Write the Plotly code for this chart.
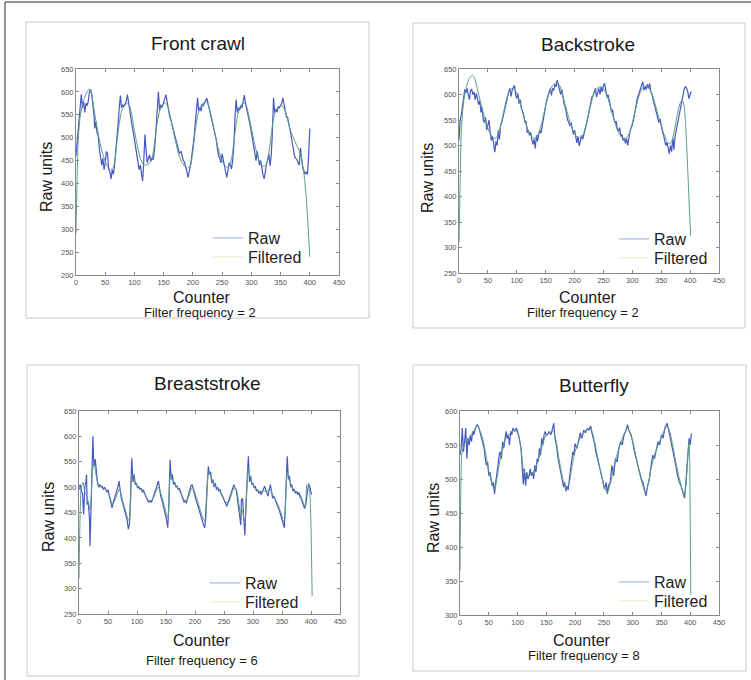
import plotly.graph_objects as go

# ---------------- data ----------------
titles = ["Front crawl", "Backstroke", "Breaststroke", "Butterfly"]
filter_labels = ["Filter frequency = 2", "Filter frequency = 2", "Filter frequency = 6", "Filter frequency = 8"]
x_ticks = [0, 50, 100, 150, 200, 250, 300, 350, 400, 450]
y_ticks_crawl = [200, 250, 300, 350, 400, 450, 500, 550, 600, 650]
y_ticks_back = [250, 300, 350, 400, 450, 500, 550, 600, 650]
y_ticks_breast = [250, 300, 350, 400, 450, 500, 550, 600, 650]
y_ticks_fly = [300, 350, 400, 450, 500, 550, 600]

crawl_raw = [(0,460),(3,510),(6,560),(9,595),(11,565),(13,580),(15,555),(17,575),(19,570),(21,580),(23,600),(25,605),(27,595),(29,575),(31,545),(32,520),(34,535),(36,510),(38,505),(40,475),(42,450),(44,440),(46,455),(48,430),(50,445),(52,470),(54,465),(56,430),(58,425),(60,410),(62,430),(64,420),(66,440),(68,465),(70,495),(72,530),(74,565),(76,592),(78,565),(80,572),(82,568),(84,575),(86,580),(88,594),(90,575),(92,560),(94,545),(96,525),(98,512),(100,495),(102,475),(104,455),(106,442),(108,430),(110,440),(112,425),(114,405),(116,450),(118,507),(120,470),(122,445),(124,455),(126,462),(128,448),(130,455),(132,452),(134,470),(136,500),(138,535),(140,565),(141,600),(143,560),(145,572),(147,565),(150,580),(152,585),(154,594),(156,578),(158,560),(160,548),(162,540),(165,522),(168,510),(171,495),(174,478),(177,466),(180,470),(183,452),(186,445),(188,432),(190,418),(192,413),(194,428),(196,440),(198,460),(200,478),(202,500),(204,530),(206,560),(208,587),(210,558),(212,566),(214,558),(216,572),(218,570),(220,578),(222,582),(224,586),(226,575),(228,565),(231,545),(234,525),(237,508),(240,495),(242,475),(244,460),(246,455),(248,445),(250,465),(252,448),(254,440),(256,425),(258,413),(260,432),(262,445),(264,440),(266,432),(268,450),(270,480),(272,545),(274,583),(276,555),(278,565),(280,560),(282,570),(284,565),(286,578),(288,593),(290,575),(292,565),(295,545),(298,528),(300,512),(302,500),(304,480),(306,465),(308,450),(310,470),(312,455),(314,440),(316,450),(318,430),(320,418),(322,410),(324,430),(326,442),(328,452),(330,465),(332,438),(334,460),(336,510),(338,587),(340,555),(342,562),(344,556),(346,568),(348,565),(350,572),(352,575),(354,587),(356,570),(358,555),(360,545),(362,545),(364,528),(366,520),(368,505),(370,490),(372,472),(374,460),(376,455),(378,452),(380,445),(382,440),(384,478),(386,445),(388,432),(390,428),(392,420),(394,425),(396,420),(398,460),(400,520)]
crawl_raw_x = [p[0] for p in crawl_raw]
crawl_raw_y = [p[1] for p in crawl_raw]
crawl_filt_x = [0,2,4,7,10,14,18,22,25,28,31,35,40,45,50,55,60,64,67,70,74,78,83,88,92,96,100,105,110,115,120,125,130,134,138,143,148,153,157,161,166,171,176,181,186,191,196,200,204,209,214,219,224,228,233,238,243,248,253,258,263,267,271,276,281,286,291,295,300,305,310,315,320,325,329,333,337,342,347,352,357,362,367,372,378,384,388,391,394,397,400]
crawl_filt_y = [290,420,500,545,565,585,598,606,602,585,560,530,495,468,448,435,430,436,455,490,530,558,570,575,568,545,515,482,455,442,440,443,455,485,525,558,572,576,568,548,518,488,462,447,438,433,440,470,515,553,570,577,577,565,538,508,478,456,442,436,440,460,500,545,568,576,572,552,522,490,463,446,437,440,458,495,535,560,568,570,562,540,515,500,482,465,440,410,370,310,240]

back_raw = [(0,510),(2,550),(4,560),(6,575),(8,595),(10,610),(12,603),(14,612),(16,600),(18,590),(20,608),(22,610),(24,600),(26,605),(28,590),(30,602),(32,592),(34,580),(36,588),(38,565),(40,575),(42,550),(44,545),(46,555),(48,530),(50,540),(52,550),(54,525),(56,510),(58,518),(60,500),(62,487),(64,508),(66,500),(68,530),(70,512),(72,540),(74,545),(76,555),(78,565),(80,580),(82,590),(84,600),(86,605),(88,612),(90,596),(92,608),(94,612),(96,618),(98,600),(100,592),(102,602),(104,582),(106,590),(108,572),(110,568),(112,560),(114,545),(116,548),(118,525),(120,530),(122,520),(124,526),(126,512),(128,502),(130,512),(132,494),(134,520),(136,508),(138,522),(140,530),(142,524),(144,540),(146,550),(148,565),(150,578),(152,590),(154,600),(156,605),(158,612),(160,598),(162,612),(164,608),(166,620),(168,615),(170,628),(172,620),(174,612),(176,600),(178,610),(180,590),(182,580),(184,575),(186,560),(188,550),(190,545),(192,538),(194,545),(196,528),(198,522),(200,530),(202,512),(204,505),(206,518),(208,499),(210,508),(212,520),(214,512),(216,525),(218,530),(220,540),(222,548),(224,560),(226,572),(228,585),(230,595),(232,598),(234,608),(236,612),(238,595),(240,605),(242,612),(244,600),(246,615),(248,605),(250,618),(252,622),(254,608),(256,595),(258,600),(260,585),(262,578),(264,565),(266,570),(268,552),(270,545),(272,548),(274,532),(276,528),(278,535),(280,518),(282,522),(284,510),(286,515),(288,504),(290,514),(292,500),(294,520),(296,528),(298,535),(300,540),(302,550),(304,560),(306,575),(308,590),(310,598),(312,605),(314,612),(316,620),(318,625),(320,608),(322,615),(324,610),(326,620),(328,612),(330,622),(332,605),(334,600),(336,590),(338,582),(340,572),(342,565),(344,558),(346,545),(348,552),(350,535),(352,528),(354,520),(356,510),(358,500),(360,506),(362,490),(364,484),(366,500),(368,488),(370,515),(372,492),(374,518),(376,530),(378,545),(380,558),(382,570),(384,578),(386,592),(388,605),(390,612),(392,615),(394,612),(396,605),(398,592),(400,600),(402,606)]
back_raw_x = [p[0] for p in back_raw]
back_raw_y = [p[1] for p in back_raw]
back_filt_x = [0,2,4,7,10,14,18,23,27,31,35,40,46,52,58,64,69,74,79,84,89,94,99,104,110,116,122,128,133,138,144,150,156,162,168,174,179,185,191,197,203,209,215,221,227,233,239,245,251,257,263,269,275,281,287,293,299,305,311,317,323,329,335,341,347,353,359,364,368,372,376,380,384,387,390,392,394,396,398,401]
back_filt_y = [310,430,530,575,600,620,632,638,632,615,595,572,548,528,516,514,525,548,575,598,610,612,605,590,565,542,524,515,514,524,548,578,603,618,624,618,600,575,550,530,518,515,522,545,575,600,612,615,610,595,572,548,528,517,513,520,540,568,595,612,617,612,598,575,550,528,510,503,508,525,550,572,586,588,575,545,500,450,395,323]

breast_raw = [(0,495),(2,505),(4,492),(6,488),(8,446),(10,500),(12,512),(13,525),(14,466),(16,470),(18,440),(19,384),(21,470),(23,560),(24,600),(25,560),(26,540),(28,555),(30,525),(32,508),(34,500),(36,505),(38,500),(40,502),(42,495),(44,500),(46,496),(48,490),(50,495),(52,485),(54,475),(56,468),(57,459),(59,470),(61,478),(63,485),(65,490),(67,500),(69,512),(71,490),(73,478),(75,470),(77,462),(79,455),(81,448),(83,435),(85,417),(87,428),(89,485),(91,557),(93,510),(95,525),(97,505),(99,508),(101,498),(103,502),(105,495),(107,498),(109,490),(111,495),(113,488),(115,482),(117,476),(119,472),(121,470),(123,474),(125,470),(127,478),(129,485),(131,492),(133,498),(135,505),(137,512),(139,492),(141,482),(143,475),(145,465),(147,458),(149,448),(151,435),(153,420),(155,470),(157,554),(159,515),(161,525),(163,505),(165,510),(167,500),(169,503),(171,495),(173,498),(175,490),(177,482),(179,476),(181,470),(183,474),(185,468),(187,478),(189,488),(191,495),(193,502),(195,505),(197,498),(199,488),(201,478),(203,470),(205,462),(207,455),(209,448),(211,440),(213,432),(215,425),(217,420),(219,470),(221,520),(223,541),(225,525),(227,530),(229,508),(231,515),(233,500),(235,508),(237,495),(239,500),(241,492),(243,496),(245,488),(247,482),(249,476),(251,470),(253,466),(255,462),(257,470),(259,478),(261,485),(263,492),(265,500),(267,505),(269,498),(271,495),(273,478),(275,460),(277,440),(279,425),(280,475),(282,478),(284,440),(286,405),(288,470),(290,525),(292,561),(294,510),(296,522),(298,505),(300,508),(302,498),(304,502),(306,492),(308,495),(310,488),(312,492),(314,485),(316,490),(318,495),(320,502),(322,495),(324,488),(326,482),(328,495),(330,505),(332,490),(334,478),(336,482),(338,475),(340,470),(342,465),(344,458),(346,452),(348,445),(350,438),(352,430),(354,420),(356,470),(358,520),(359,561),(361,515),(363,522),(365,500),(367,505),(369,492),(371,496),(373,488),(375,492),(377,485),(379,490),(381,480),(383,478),(385,470),(387,462),(389,458),(391,465),(393,485),(395,500),(397,505),(399,492),(401,485)]
breast_raw_x = [p[0] for p in breast_raw]
breast_raw_y = [p[1] for p in breast_raw]
breast_filt_x = [0,2,4,7,10,13,16,19,21,23,25,27,30,34,40,46,51,55,58,62,66,69,72,76,80,84,87,89,91,93,96,101,107,113,118,123,128,133,137,141,145,149,152,154,156,158,161,166,172,178,183,188,193,196,200,205,210,214,218,220,222,225,229,235,242,248,253,258,263,268,272,276,279,282,285,287,290,292,296,302,310,318,324,330,335,340,345,349,353,355,357,359,362,367,373,380,386,390,393,396,398,400,402]
breast_filt_y = [320,450,500,510,490,485,470,455,480,530,545,540,520,503,500,495,488,474,466,474,487,495,488,470,455,438,433,470,525,525,512,502,495,487,476,471,478,492,500,488,472,455,440,445,505,525,515,504,495,482,472,478,495,500,488,470,452,438,432,470,520,530,515,503,494,482,470,470,486,500,492,465,440,455,430,440,510,535,515,500,492,492,493,496,482,472,460,447,432,440,500,530,515,500,492,488,472,462,505,508,490,420,285]

fly_raw = [(0,535),(2,545),(4,575),(6,540),(8,555),(10,575),(12,530),(14,560),(16,550),(18,565),(20,555),(22,570),(24,565),(27,575),(30,580),(33,575),(36,565),(39,555),(42,545),(44,530),(46,520),(48,525),(50,505),(52,510),(54,500),(56,490),(58,495),(60,478),(62,495),(64,505),(66,520),(68,535),(70,540),(72,530),(74,555),(76,545),(78,560),(80,570),(82,560),(84,565),(86,550),(88,570),(90,565),(92,575),(95,570),(98,575),(100,570),(103,560),(106,545),(108,520),(110,492),(112,515),(114,490),(116,510),(118,500),(120,505),(122,515),(124,505),(126,510),(128,500),(130,520),(132,510),(134,530),(136,525),(138,545),(140,535),(142,560),(144,550),(146,565),(148,570),(150,565),(152,565),(155,570),(158,565),(161,575),(163,582),(165,560),(168,548),(170,532),(172,522),(175,512),(178,498),(180,488),(182,495),(184,482),(186,490),(188,484),(190,500),(192,515),(194,530),(196,540),(198,535),(200,552),(203,545),(206,558),(209,568),(212,560),(215,572),(218,568),(221,574),(224,572),(227,578),(230,565),(233,555),(236,540),(239,530),(242,518),(245,510),(248,498),(251,485),(254,495),(256,478),(258,490),(261,495),(264,520),(267,505),(270,530),(273,525),(276,545),(279,555),(282,550),(285,565),(288,570),(291,580),(294,570),(297,565),(300,555),(303,540),(306,530),(309,520),(312,510),(315,500),(318,495),(321,485),(323,475),(326,490),(329,500),(332,520),(335,535),(338,530),(341,545),(344,555),(347,550),(350,565),(353,560),(356,575),(360,582),(363,570),(366,560),(369,545),(372,535),(375,520),(378,505),(381,495),(384,490),(387,480),(390,472),(392,490),(394,510),(396,540),(398,560),(400,550),(402,567)]
fly_raw_x = [p[0] for p in fly_raw]
fly_raw_y = [p[1] for p in fly_raw]
fly_filt_x = [0,1,3,6,10,15,20,25,30,35,40,45,50,55,60,65,70,75,80,85,90,97,102,106,110,115,120,125,130,135,140,145,150,156,162,166,170,175,180,185,190,195,200,205,210,217,225,230,235,240,245,250,256,261,266,271,276,282,287,291,296,301,306,311,316,322,327,332,337,342,348,354,360,365,370,375,380,385,390,393,396,398,399,400,401]
fly_filt_y = [365,460,535,548,555,560,565,572,578,570,558,535,512,494,484,505,530,548,560,565,570,572,562,545,515,505,505,508,515,525,540,555,565,568,570,560,540,515,495,485,495,520,540,552,562,570,575,568,550,528,508,490,480,492,512,530,545,560,570,575,568,552,532,512,495,480,492,515,532,545,558,570,578,568,548,525,505,488,475,495,535,555,530,440,330]

series_raw_x = [crawl_raw_x, back_raw_x, breast_raw_x, fly_raw_x]
series_raw_y = [crawl_raw_y, back_raw_y, breast_raw_y, fly_raw_y]
series_filt_x = [crawl_filt_x, back_filt_x, breast_filt_x, fly_filt_x]
series_filt_y = [crawl_filt_y, back_filt_y, breast_filt_y, fly_filt_y]
y_ticks_all = [y_ticks_crawl, y_ticks_back, y_ticks_breast, y_ticks_fly]

# ---------------- layout helpers ----------------
W, H = 751, 680
def fx(p): return p / W
def fy(p): return 1 - p / H

FONT = "Liberation Sans, Arial, Helvetica, sans-serif"
RAW_COLOR = "#4858c2"
FILT_COLOR = "#5a9e84"

# plot areas in pixels: (left, right, top, bottom)
areas = [(76, 339, 69, 275), (459, 719, 69, 273), (79, 340, 411, 614), (460, 719, 411, 615)]
boxes = [(26, 369, 22, 318), (413, 745, 23, 328), (27, 359, 365, 676), (413, 746, 365, 671)]
title_pos = [(198, 43), (588, 45), (207, 383), (594, 385)]
ylab_pos = [(47, 177), (428, 178), (48, 517), (433, 518)]
xlab_pos = [(202, 297), (588, 297), (202, 640), (582, 640)]
freq_pos = [(200, 313), (583, 313), (202, 660), (584, 655)]
legend_pos = [(208, 221), (614, 222), (205, 566), (614, 565)]   # top-left of the "Raw" entry
LEG_STEP = 19

fig = go.Figure()
layout = dict(width=W, height=H, margin=dict(l=0, r=0, t=0, b=0), autosize=False,
              paper_bgcolor="white", plot_bgcolor="white", showlegend=True,
              font=dict(family=FONT, color="#222"))
annotations = []
shapes = []

for i in range(4):
    sfx = "" if i == 0 else str(i + 1)
    xa, ya = "x" + sfx, "y" + sfx
    leg_raw = "legend" if i == 0 else "legend" + str(2 * i + 1)
    leg_filt = "legend" + str(2 * i + 2)
    l, r, t, b = areas[i]
    yt = y_ticks_all[i]
    axis_common = dict(showgrid=False, zeroline=False, showline=True, linecolor="#8a8a8a", linewidth=1,
                       ticks="inside", ticklen=3, tickcolor="#8a8a8a", mirror="allticks",
                       tickfont=dict(size=7.5, color="#555", family=FONT), automargin=False, fixedrange=True)
    layout["xaxis" + sfx] = dict(domain=[fx(l), fx(r)], anchor=ya, range=[0, 450], tickvals=x_ticks, **axis_common)
    layout["yaxis" + sfx] = dict(domain=[fy(b), fy(t)], anchor=xa, range=[yt[0], yt[-1]], tickvals=yt, **axis_common)

    fig.add_trace(go.Scatter(x=series_raw_x[i], y=series_raw_y[i], mode="lines",
                             line=dict(color=RAW_COLOR, width=1.2), showlegend=False, xaxis=xa, yaxis=ya))
    fig.add_trace(go.Scatter(x=series_filt_x[i], y=series_filt_y[i], mode="lines",
                             line=dict(color=FILT_COLOR, width=1, shape="spline", smoothing=0.6),
                             showlegend=False, xaxis=xa, yaxis=ya))
    # legend samples (faint, as in the picture)
    fig.add_trace(go.Scatter(x=[None], y=[None], mode="lines", name="Raw",
                             line=dict(color="#b9c8e8", width=1.5), legend=leg_raw, xaxis=xa, yaxis=ya))
    fig.add_trace(go.Scatter(x=[None], y=[None], mode="lines", name="Filtered",
                             line=dict(color="#f1f1dc", width=1.5), legend=leg_filt, xaxis=xa, yaxis=ya))
    lx, ly = legend_pos[i]
    for k, leg in enumerate([leg_raw, leg_filt]):
        layout[leg] = dict(x=fx(lx), y=fy(ly + k * LEG_STEP), xanchor="left", yanchor="top",
                           bgcolor="rgba(0,0,0,0)", font=dict(size=16, color="#222", family=FONT),
                           itemwidth=30)

    bl, br, bt, bb = boxes[i]
    shapes.append(dict(type="rect", xref="paper", yref="paper", x0=fx(bl), x1=fx(br), y0=fy(bb), y1=fy(bt),
                       line=dict(color="#c9c9c9", width=1)))
    annotations.append(dict(text=titles[i], x=fx(title_pos[i][0]), y=fy(title_pos[i][1]), xref="paper", yref="paper",
                            showarrow=False, xanchor="center", yanchor="middle", font=dict(size=19, color="#1a1a1a")))
    annotations.append(dict(text="Raw units", x=fx(ylab_pos[i][0]), y=fy(ylab_pos[i][1]), xref="paper", yref="paper",
                            showarrow=False, textangle=-90, xanchor="center", yanchor="middle", font=dict(size=16, color="#1a1a1a")))
    annotations.append(dict(text="Counter", x=fx(xlab_pos[i][0]), y=fy(xlab_pos[i][1]), xref="paper", yref="paper",
                            showarrow=False, xanchor="center", yanchor="middle", font=dict(size=16, color="#1a1a1a")))
    annotations.append(dict(text=filter_labels[i], x=fx(freq_pos[i][0]), y=fy(freq_pos[i][1]), xref="paper", yref="paper",
                            showarrow=False, xanchor="center", yanchor="middle", font=dict(size=13, color="#1a1a1a")))

# outer frame (top and left edges)
shapes.append(dict(type="line", xref="paper", yref="paper", x0=fx(5), x1=1, y0=fy(2), y1=fy(2), line=dict(color="#6e6e6e", width=1.5)))
shapes.append(dict(type="line", xref="paper", yref="paper", x0=fx(5), x1=fx(5), y0=fy(2), y1=0, line=dict(color="#6e6e6e", width=1.5)))

layout["annotations"] = annotations
layout["shapes"] = shapes
fig.update_layout(**layout)
fig.write_html("out.html", config={"displayModeBar": False, "staticPlot": True},
               post_script="document.body.style.margin='0';document.body.style.overflow='hidden';")
